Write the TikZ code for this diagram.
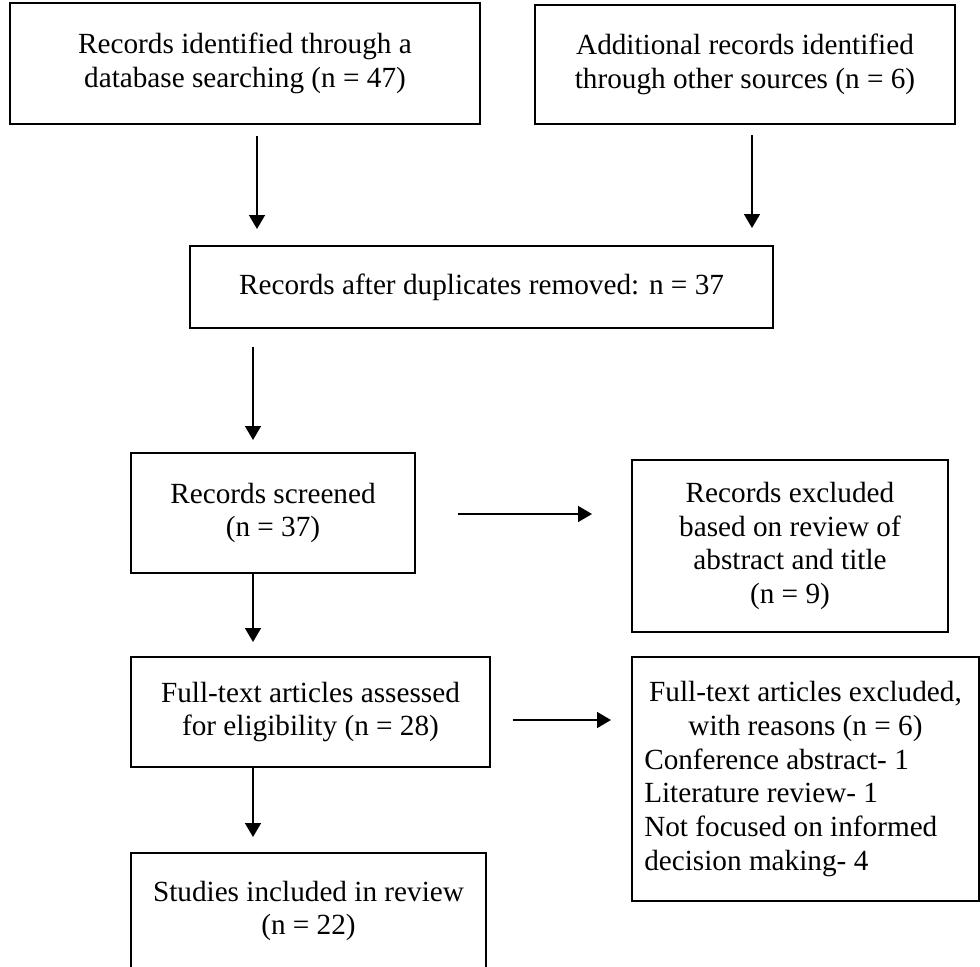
\documentclass[tikz,border=0pt]{standalone}
\usepackage{fontspec}
\setmainfont{Liberation Serif}
\usetikzlibrary{arrows.meta, calc}
\newcommand{\pxu}{0.431pt}
\newlength{\exclw}
\setlength{\exclw}{139pt}
\newcommand{\lIdentDb}{Records identified through a\\database searching (n = 47)}
\newcommand{\lIdentOther}{Additional records identified\\through other sources (n = 6)}
\newcommand{\lDuplicates}{Records after duplicates removed: n = 37}
\newcommand{\lScreened}{Records screened\\(n = 37)}
\newcommand{\lExclScreen}{Records excluded\\based on review of\\abstract and title\\(n = 9)}
\newcommand{\lFullText}{Full-text articles assessed\\for eligibility (n = 28)}
\newcommand{\lExclFull}{\makebox[\exclw]{Full-text articles excluded,}\\\makebox[\exclw]{with reasons (n = 6)}\\Conference abstract- 1\\Literature review- 1\\Not focused on informed\\decision making- 4}
\newcommand{\lIncluded}{Studies included in review\\(n = 22)}

\begin{document}
\begin{tikzpicture} [
        x=\pxu, y=-\pxu,
        box/.style={draw, line width=0.85pt, align=center, inner sep=0pt, font=\fontsize{12.6}{14.6}\selectfont},
        arr/.style={-{Triangle[width=6.8pt, length=6pt]}, line width=0.85pt}
    ]

    \clip (0,0) rectangle (980,966);

    \path (245,63.5) node[box, minimum width=470*\pxu, minimum height=121*\pxu] (db) { \lIdentDb };
    \path (745,64.5) node[box, minimum width=420*\pxu, minimum height=119*\pxu] (other) { \lIdentOther };
    \path (481.5,287) node[box, minimum width=583*\pxu, minimum height=82*\pxu] (dup) { \lDuplicates };
    \path (273,513) node[box, minimum width=284*\pxu, minimum height=120*\pxu] (screened) { \lScreened };
    \path (790,546) node[box, minimum width=316*\pxu, minimum height=172*\pxu] (excl1) { \lExclScreen };
    \path (805.5,779) node[box, minimum width=347*\pxu, minimum height=244*\pxu, text width=\exclw, align=flush left] (excl2) { \lExclFull };
    \path (310.5,712) node[box, minimum width=359*\pxu, minimum height=110*\pxu] (full) { \lFullText };
    \path (308.5,911) node[box, minimum width=355*\pxu, minimum height=116*\pxu] (studies) { \lIncluded };

    \draw[arr] ($(db.south)+(12,11)$) -- ($(db.south|-dup.north)+(12,-16)$);
    \draw[arr] ($(other.south)+(7,10)$) -- ($(other.south|-dup.north)+(7,-17)$);
    \draw[arr] ($(screened.north|-dup.south)+(-20,18)$) -- ($(screened.north)+(-20,-12)$);
    \draw[arr] ($(screened.east)+(42,1)$) -- ($(excl1.west|-screened.east)+(-39,1)$);
    \draw[arr] ($(screened.south)+(-20,0)$) -- ($(screened.south|-full.north)+(-20,-14)$);
    \draw[arr] ($(full.east)+(22,8)$) -- ($(excl2.west|-full.east)+(-20,8)$);
    \draw[arr] ($(screened.south|-full.south)+(-20,0)$) -- ($(screened.south|-studies.north)+(-20,-15)$);

\end{tikzpicture}
\end{document}
